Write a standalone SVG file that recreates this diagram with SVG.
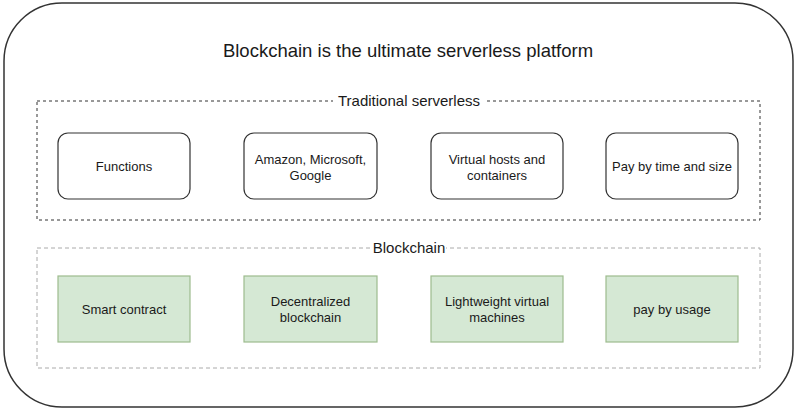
<svg xmlns="http://www.w3.org/2000/svg" width="800" height="411" viewBox="0 0 800 411">
<style>
text{font-family:"Liberation Sans",Arial,sans-serif;fill:#1a1a1a;text-anchor:middle}
.t{font-size:13px}
.w{fill:#fff;stroke:#333;stroke-width:1.2}
.g{fill:#d5e8d4;stroke:#9dbb8e;stroke-width:1.2}
</style>
<rect width="800" height="411" fill="#fff"/>
<g id="outer">
<rect x="4" y="3" width="789" height="404" rx="58" ry="58" fill="#fff" stroke="#333" stroke-width="1.5"/>
<text x="408" y="57" style="font-size:18.5px">Blockchain is the ultimate serverless platform</text>
</g>
<g id="traditional">
<rect x="37" y="101" width="723" height="119" fill="none" stroke="#333" stroke-width="1" stroke-dasharray="3 3"/>
<rect x="333" y="92" width="152" height="18" fill="#fff"/>
<text x="409" y="106" style="font-size:15px">Traditional serverless</text>
</g>
<g id="blockchain">
<rect x="37" y="248" width="723" height="120" fill="none" stroke="#aaa" stroke-width="1" stroke-dasharray="4 3"/>
<rect x="372" y="239" width="74" height="18" fill="#fff"/>
<text x="409" y="253" style="font-size:15px">Blockchain</text>
</g>
<g id="n-functions"><rect class="w" x="58" y="133" width="132" height="66" rx="10"/><text class="t" x="124" y="171">Functions</text></g>
<g id="n-amazon"><rect class="w" x="244" y="133" width="133" height="66" rx="10"/><text class="t" x="310.5" y="164">Amazon, Microsoft,</text><text class="t" x="310.5" y="180">Google</text></g>
<g id="n-virtual"><rect class="w" x="431" y="133" width="132" height="66" rx="10"/><text class="t" x="497" y="164">Virtual hosts and</text><text class="t" x="497" y="180">containers</text></g>
<g id="n-pay"><rect class="w" x="606" y="133" width="132" height="66" rx="10"/><text class="t" x="672" y="171">Pay by time and size</text></g>
<g id="n-smart"><rect class="g" x="58" y="276" width="132" height="66"/><text class="t" x="124" y="314">Smart contract</text></g>
<g id="n-decentral"><rect class="g" x="244" y="276" width="133" height="66"/><text class="t" x="310.5" y="306">Decentralized</text><text class="t" x="310.5" y="322">blockchain</text></g>
<g id="n-light"><rect class="g" x="431" y="276" width="132" height="66"/><text class="t" x="497" y="306">Lightweight virtual</text><text class="t" x="497" y="322">machines</text></g>
<g id="n-usage"><rect class="g" x="606" y="276" width="132" height="66"/><text class="t" x="672" y="314">pay by usage</text></g>
<g id="connectors"></g>
</svg>
